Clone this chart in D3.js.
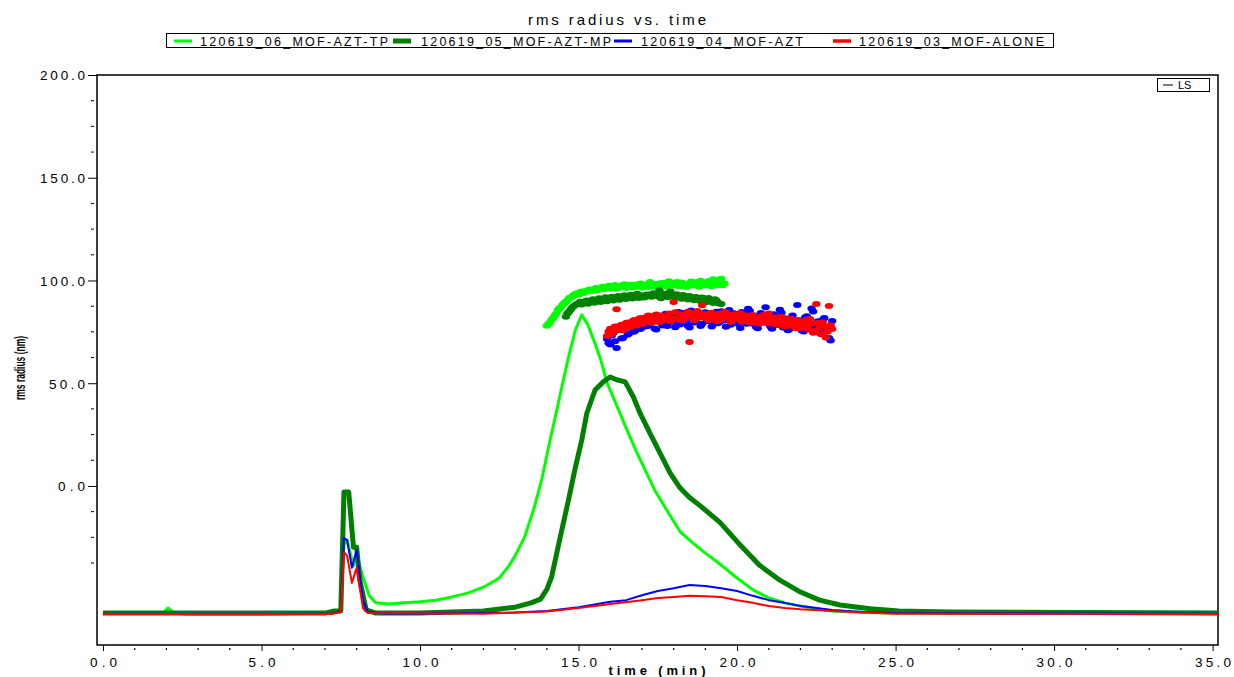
<!DOCTYPE html>
<html>
<head>
<meta charset="utf-8">
<script src="https://cdn.jsdelivr.net/npm/d3@7"></script>
<style>
  html, body { margin: 0; padding: 0; background: #fff; }
  svg { display: block; }
  text { font-family: "Liberation Sans", Arial, sans-serif; fill: #000; }
</style>
</head>
<body>
<svg id="chart" width="1234" height="677"></svg>
<script>
// ---------------- DATA ----------------
const chartTitle = "rms radius vs. time";
const xTitle = "time (min)";
const yTitle = "rms radius (nm)";
const seriesNames = ["120619_06_MOF-AZT-TP", "120619_05_MOF-AZT-MP", "120619_04_MOF-AZT", "120619_03_MOF-ALONE"];
const seriesColors = ["#00ff00", "#008000", "#0000ff", "#ff0000"];
const xTickLabels = [0, 5, 10, 15, 20, 25, 30, 35];
const yTickLabels = [0, 50, 100, 150, 200];
const yMinorTicks = [-37.5, -25, -12.5, 12.5, 25, 37.5, 62.5, 75, 87.5, 112.5, 125, 137.5, 162.5, 175, 187.5];

// LS detector traces [time (min), relative LS signal]
const lsTP = [[0,0.004],[1.9,0.004],[2.05,0.0135],[2.2,0.006],[2.6,0.002],[5,0.002],[7.0,0.004],[7.3,0.008],[7.5,0.008],
  [7.6,0.130],[7.7,0.139],[7.9,0.091],[8.0,0.111],[8.2,0.071],[8.4,0.036],[8.6,0.023],[9.0,0.021],[9.5,0.023],[10.0,0.025],
  [10.5,0.028],[11.0,0.034],[11.5,0.041],[12.0,0.052],[12.5,0.069],[12.8,0.091],[13.0,0.110],[13.3,0.145],[13.6,0.199],
  [13.85,0.254],[14.1,0.324],[14.3,0.376],[14.5,0.430],[14.7,0.482],[14.9,0.528],[15.1,0.556],[15.3,0.537],[15.5,0.506],
  [15.7,0.473],[15.9,0.430],[16.2,0.389],[16.5,0.347],[16.8,0.306],[17.1,0.269],[17.4,0.232],[17.8,0.193],[18.2,0.155],
  [18.6,0.134],[19.0,0.115],[19.5,0.093],[20.0,0.069],[20.5,0.047],[21.0,0.032],[21.5,0.023],[22.0,0.017],[22.5,0.012],
  [23.0,0.008],[24.0,0.005],[25.0,0.004],[35.17,0.003]];
const lsMP = [[0,0.004],[7.0,0.004],[7.3,0.008],[7.5,0.008],[7.6,0.228],[7.75,0.228],[7.9,0.126],[8.0,0.126],[8.1,0.065],
  [8.3,0.010],[8.6,0.004],[10.0,0.004],[11.0,0.006],[12.0,0.008],[13.0,0.015],[13.5,0.023],[13.8,0.030],[14.0,0.048],[14.15,0.071],
  [14.4,0.139],[14.68,0.213],[14.9,0.274],[15.1,0.324],[15.26,0.374],[15.52,0.417],[15.78,0.432],[16.0,0.441],[16.2,0.436],
  [16.47,0.432],[16.73,0.404],[16.94,0.374],[17.25,0.337],[17.57,0.300],[17.89,0.263],[18.2,0.236],[18.5,0.218],[18.83,0.203],
  [19.46,0.172],[20.1,0.130],[20.7,0.093],[21.35,0.065],[22.0,0.043],[22.6,0.028],[23.25,0.019],[24.2,0.012],[25.1,0.008],
  [26.7,0.006],[35.17,0.004]];
const lsAZT = [[0,0.003],[7.2,0.003],[7.5,0.008],[7.6,0.143],[7.7,0.139],[7.85,0.088],[8.0,0.121],[8.2,0.028],[8.35,0.006],
  [9.0,0.003],[12.0,0.004],[13.0,0.005],[14.0,0.008],[15.0,0.015],[16.0,0.025],[16.5,0.028],[17.0,0.037],[17.5,0.045],
  [18.0,0.050],[18.5,0.056],[19.0,0.054],[19.5,0.050],[20.0,0.045],[20.5,0.036],[21.0,0.028],[21.5,0.023],[22.0,0.017],
  [23.0,0.010],[24.0,0.006],[25.0,0.004],[35.17,0.003]];
const lsALONE = [[0,0.0024],[7.2,0.0024],[7.5,0.006],[7.6,0.117],[7.7,0.110],[7.85,0.060],[8.0,0.088],[8.2,0.0135],[8.35,0.004],
  [12.0,0.003],[14.0,0.007],[15.0,0.0135],[16.0,0.021],[17.0,0.028],[17.5,0.032],[18.0,0.034],[18.5,0.036],[19.0,0.035],
  [19.5,0.034],[20.0,0.028],[20.5,0.023],[21.0,0.017],[21.5,0.0135],[22.0,0.011],[23.0,0.008],[24.0,0.005],[25.0,0.003],
  [35.17,0.0024]];

// rms radius slices (nm): two interleaved sets per series, each sampled every 0.1 min from its start time
const rTPStart = 14.0;
const rTP = [78.0,79.5,81.8,83.9,86.5,88.2,89.6,91.3,92.0,93.4,93.1,94.6,94.2,95.3,94.8,95.9,95.2,96.4,95.7,96.8,96.1,97.2,
  96.0,96.9,97.8,96.4,97.3,96.6,98.1,97.0,96.5,97.9,96.8,98.4,97.2,96.7,98.6,97.4,96.9,98.2,97.6,99.3,97.1,98.0,96.8,98.7,
  97.5,99.1,97.0,98.3,97.6,99.8,97.2,98.9,97.8,100.9,98.5];
const rTPStart2 = 14.05;
const rTP2 = [78.8,80.9,83.0,85.6,87.1,89.0,90.2,91.8,92.9,93.8,94.3,93.9,95.0,95.6,95.1,96.3,95.9,96.9,96.2,97.4,96.6,97.8,
  96.5,97.3,98.2,97.0,97.9,96.8,97.6,98.5,97.3,98.0,99.2,97.7,98.3,97.1,98.8,97.9,99.6,97.5,98.4,97.8,99.0,98.1,97.4,99.5,
  98.0,97.6,99.9,98.6,97.9,98.8,100.6,98.2,99.1,97.7];
const rMPStart = 14.6;
const rMP = [82.4,84.8,86.9,88.1,88.9,88.3,89.6,88.7,90.1,89.2,90.4,89.5,90.8,89.9,91.2,90.3,91.6,90.6,91.9,91.0,92.3,91.2,
  92.6,91.5,92.8,91.8,93.0,92.1,93.4,92.2,91.4,93.1,92.0,94.6,92.5,93.3,91.8,92.9,91.3,92.4,90.9,92.0,90.6,91.7,90.2,91.5,
  89.8,90.9,89.1,88.6];
const rMPStart2 = 14.65;
const rMP2 = [83.9,85.7,87.5,88.6,89.7,89.0,90.2,89.4,90.9,90.0,91.3,90.5,91.8,90.9,92.1,91.2,92.5,91.6,92.8,91.8,93.1,92.0,
  93.5,92.3,91.7,93.2,92.4,93.8,92.6,95.2,92.8,93.6,92.1,93.0,91.6,92.7,91.1,92.2,90.7,91.9,90.4,91.6,89.9,91.1,89.5,90.6,
  89.0,90.2,88.8];
const rAZTStart = 15.9;
const rAZT = [71.5,68.8,74.6,67.2,76.4,72.0,78.1,74.3,79.5,75.8,80.6,77.0,81.8,78.2,80.1,76.6,82.9,79.3,81.2,77.8,83.5,79.9,
  82.0,78.6,84.2,80.4,77.1,83.6,79.8,82.7,78.9,84.5,80.7,77.6,83.1,79.2,85.0,80.5,82.8,78.4,84.0,80.0,76.9,82.4,79.0,85.2,
  80.8,77.4,83.0,79.6,87.0,80.9,76.5,82.2,78.3,84.3,79.5,75.8,81.3,77.4,88.1,79.0,75.2,82.6,77.1,84.9,78.2,74.4,80.8,76.0,
  72.0,80.3];
const rAZTStart2 = 15.95;
const rAZT2 = [69.5,73.2,70.4,75.9,71.8,77.3,73.6,78.8,75.1,80.2,76.4,81.5,77.7,79.0,82.6,76.2,80.9,78.1,83.8,79.4,
  81.6,77.2,84.7,80.1,82.3,78.0,85.4,79.6,82.0,77.9,84.1,80.3,82.9,78.7,84.8,79.8,83.3,77.5,85.6,80.6,
  82.5,78.8,84.6,80.0,86.3,79.1,82.7,76.8,84.2,79.7,81.9,77.6,83.6,78.9,85.8,77.1,81.5,76.2,83.0,78.4,
  80.6,75.5,82.1,77.8,86.4,76.6,80.2,74.1,81.7,77.3,70.8];
const rALONEStart = 15.9;
const rALONE = [73.0,76.5,74.8,86.0,77.9,75.6,79.3,77.2,80.1,78.0,81.2,78.8,80.5,82.9,79.4,81.6,79.9,83.0,80.7,82.4,80.2,89.5,
  81.3,83.6,80.8,82.9,70.0,83.8,81.5,84.1,88.0,82.2,80.6,84.3,81.9,83.5,80.9,84.6,82.0,79.8,83.4,81.1,84.0,80.3,82.7,79.6,
  83.2,81.0,78.9,82.5,80.2,83.9,79.4,81.8,78.6,82.3,79.9,77.8,81.4,78.7,80.6,76.9,79.8,77.5,81.2,74.6,88.5,77.0,79.6,72.3,
  87.6,76.4];
const rALONEStart2 = 15.95;
const rALONE2 = [75.2,74.0,77.6,76.3,78.4,76.8,79.6,77.9,80.8,78.5,81.7,79.3,82.4,80.1,81.2,83.5,79.8,82.6,80.7,83.9,
  81.4,84.5,80.9,83.1,81.8,84.8,82.3,80.6,85.1,82.0,83.6,81.2,84.2,82.5,80.3,83.8,81.7,84.4,82.1,80.8,
  83.5,81.6,79.9,83.0,80.7,82.8,79.5,82.1,80.4,83.3,79.2,81.5,78.8,82.0,79.6,77.9,81.1,78.3,80.2,76.8,
  79.5,77.2,80.6,76.1,78.9,75.4,79.3,73.8,77.6,75.0,78.2];
const sliceStep = 0.1;

// ---------------- CHART ----------------
const svg = d3.select("#chart");
const L = 97, R = 1218, T = 75, B = 645;
const x = d3.scaleLinear().domain([-0.19, 35.17]).range([L, R]);
const yR = d3.scaleLinear().domain([-77.4, 200]).range([B, T]);
const yLS = d3.scaleLinear().domain([-0.055, 1.0]).range([B, T]);

svg.append("defs").append("clipPath").attr("id", "clip")
  .append("rect").attr("x", L).attr("y", T).attr("width", R - L).attr("height", B - T);

// Title
svg.append("text").attr("x", 617).attr("y", 25).attr("text-anchor", "middle")
  .attr("font-size", 15).attr("textLength", 178).attr("lengthAdjust", "spacing").text(chartTitle);

// Legend
const leg = svg.append("g");
leg.append("rect").attr("x", 166.5).attr("y", 33.5).attr("width", 887).attr("height", 14)
  .attr("fill", "none").attr("stroke", "#000").attr("stroke-width", 1);
const legW = [2, 4, 2, 2.5];
const legSwX = [174, 393, 614, 833];
const legTxX = [200, 421, 641, 859];
const legTxLen = [188, 190, 162, 185];
seriesNames.forEach((n, i) => {
  leg.append("line").attr("x1", legSwX[i]).attr("x2", legSwX[i] + 18).attr("y1", 41).attr("y2", 41)
    .attr("stroke", seriesColors[i]).attr("stroke-width", legW[i] + 1);
  leg.append("text").attr("x", legTxX[i]).attr("y", 45.5).attr("font-size", 12.5)
    .attr("textLength", legTxLen[i]).attr("lengthAdjust", "spacing").text(n);
});

// Frame
svg.append("rect").attr("x", L).attr("y", T).attr("width", R - L).attr("height", B - T)
  .attr("fill", "none").attr("stroke", "#000").attr("stroke-width", 1.5);

// LS box
svg.append("rect").attr("x", 1157.5).attr("y", 78.5).attr("width", 52).attr("height", 13)
  .attr("fill", "#fff").attr("stroke", "#000").attr("stroke-width", 1);
svg.append("line").attr("x1", 1163).attr("x2", 1173).attr("y1", 85).attr("y2", 85).attr("stroke", "#000").attr("stroke-width", 1);
svg.append("text").attr("x", 1178).attr("y", 89).attr("font-size", 11).text("LS");

// Y axis
const yAxis = d3.axisLeft(yR).tickValues(yTickLabels).tickSize(9).tickPadding(3)
  .tickFormat(d => d3.format(".1f")(d));
const gy = svg.append("g").attr("transform", `translate(${L},0)`).call(yAxis);
gy.select(".domain").remove();
gy.selectAll(".tick line").attr("stroke", "#000").attr("stroke-width", 1);
gy.selectAll(".tick text").attr("font-family", "Liberation Sans, Arial, sans-serif").attr("font-size", 13.5)
  .attr("fill", "#000").attr("dy", "0.36em")
  .each(function (d) { const s = d3.format(".1f")(d); d3.select(this).attr("textLength", s.length * 9).attr("lengthAdjust", "spacing"); });
svg.append("g").selectAll("line").data(yMinorTicks).join("line")
  .attr("x1", L - 6).attr("x2", L - 3).attr("y1", d => yR(d)).attr("y2", d => yR(d))
  .attr("stroke", "#000").attr("stroke-width", 1);

// X axis
const xAxis = d3.axisBottom(x).tickValues(xTickLabels).tickSize(6).tickPadding(6)
  .tickFormat(d => d3.format(".1f")(d));
const gx = svg.append("g").attr("transform", `translate(0,${B})`).call(xAxis);
gx.select(".domain").remove();
gx.selectAll(".tick line").attr("stroke", "#000").attr("stroke-width", 1);
gx.selectAll(".tick text").attr("font-family", "Liberation Sans, Arial, sans-serif").attr("font-size", 13.5)
  .attr("fill", "#000")
  .each(function (d) { const s = d3.format(".1f")(d); d3.select(this).attr("textLength", s.length * 9).attr("lengthAdjust", "spacing"); });
const xMinor = d3.range(1, 36).filter(v => v % 5 !== 0);
svg.append("g").selectAll("line").data(xMinor).join("line")
  .attr("x1", d => x(d)).attr("x2", d => x(d)).attr("y1", B + 3).attr("y2", B + 5)
  .attr("stroke", "#000").attr("stroke-width", 1.2);

// Axis titles
svg.append("text").attr("x", 657).attr("y", 675).attr("text-anchor", "middle").attr("font-weight", "bold")
  .attr("font-size", 13).attr("textLength", 97).attr("lengthAdjust", "spacing").text(xTitle);
svg.append("text").attr("transform", "translate(25,368) rotate(-90)").attr("text-anchor", "middle")
  .attr("font-weight", "bold").attr("font-size", 14).attr("textLength", 64).attr("lengthAdjust", "spacingAndGlyphs")
  .text(yTitle);

// Plot content
const plot = svg.append("g").attr("clip-path", "url(#clip)");
const lsData = [lsTP, lsMP, lsAZT, lsALONE];
const lsWidths = [3, 5, 2, 2];
const line = d3.line().x(d => x(d[0])).y(d => yLS(d[1]));
lsData.forEach((ds, i) => {
  plot.append("path").datum(ds).attr("d", line).attr("fill", "none")
    .attr("stroke", seriesColors[i]).attr("stroke-width", lsWidths[i]).attr("stroke-linejoin", "round");
});

const rData = [
  [[rTPStart, rTP], [rTPStart2, rTP2]],
  [[rMPStart, rMP], [rMPStart2, rMP2]],
  [[rAZTStart, rAZT], [rAZTStart2, rAZT2]],
  [[rALONEStart, rALONE], [rALONEStart2, rALONE2]]
];
rData.forEach((sets, i) => {
  const g = plot.append("g");
  sets.forEach(([t0, vals]) => {
    g.append("g").selectAll("ellipse").data(vals).join("ellipse")
      .attr("cx", (d, j) => x(t0 + j * sliceStep)).attr("cy", d => yR(d))
      .attr("rx", 4.2).attr("ry", 3).attr("fill", seriesColors[i]);
  });
});
</script>
</body>
</html>
